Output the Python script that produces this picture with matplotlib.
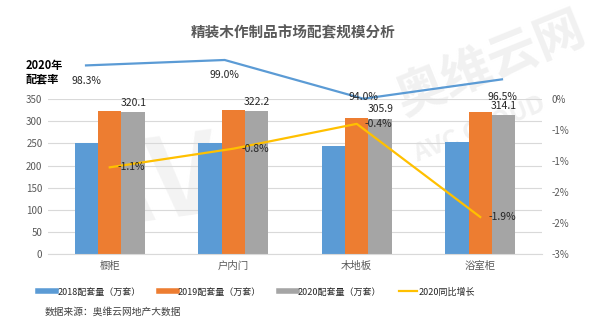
import numpy as np
import matplotlib
matplotlib.use('Agg')
import matplotlib.pyplot as plt
from matplotlib.lines import Line2D

plt.rcParams['font.family'] = ['Noto Sans CJK SC', 'DejaVu Sans']
plt.rcParams['axes.unicode_minus'] = False

plot_color = {
	'2018': '#5B9BD5',
	'2019': '#ED7D31',
	'2020': '#A5A5A5',
	'growth': '#FFC000',
	'rate': '#5B9BD5',
	'grid': '#D9D9D9',
	'text': '#595959',
}

# data
categories = ['橱柜', '户内门', '木地板', '浴室柜']
vol_2018 = [250, 251, 245, 252]
vol_2019 = [323.6, 324.8, 307.1, 320.2]
vol_2020 = [320.1, 322.2, 305.9, 314.1]
growth_2020 = [-1.1, -0.8, -0.4, -1.9]
rate_2020 = [98.3, 99.0, 94.0, 96.5]
right_ticks = [0, -0.5, -1.0, -1.5, -2.0, -2.5]
right_tick_labels = ['0%', '-1%', '-1%', '-2%', '-2%', '-3%']
series_names = ['2018配套量（万套）', '2019配套量（万套）', '2020配套量（万套）', '2020同比增长']

fig_w, fig_h = 599, 324
fig = plt.figure(figsize=(fig_w / 100, fig_h / 100), dpi=100)

# faint watermark, kept behind the axes
fig.text(0.82, 0.80, '奥维云网', fontsize=36, fontweight='bold', color='#f1f1f1',
	rotation=22, ha='center', va='center', zorder=-5)
fig.text(0.80, 0.60, 'AVC CLOUD', fontsize=18, fontweight='bold', color='#f1f1f1',
	rotation=22, ha='center', va='center', zorder=-5)
fig.text(0.25, 0.42, 'AV', fontsize=80, fontweight='bold', fontstyle='italic', color='#f3f3f3',
	rotation=8, ha='center', va='center', zorder=-5)

# main bar axes
ax = fig.add_axes([48 / fig_w, 1 - 254.3 / fig_h, 494 / fig_w, 155.3 / fig_h])
ax.set_facecolor('none')
x = np.arange(len(categories))
w = 0.19
b18 = ax.bar(x - w, vol_2018, w, color=plot_color['2018'])
b19 = ax.bar(x, vol_2019, w, color=plot_color['2019'])
b20 = ax.bar(x + w, vol_2020, w, color=plot_color['2020'])
ax.bar_label(b20, labels=['%.1f' % v for v in vol_2020], padding=3, fontsize=7.5, color='#262626')

ax.set_xlim(-0.5, 3.5)
ax.set_ylim(0, 350)
ax.set_yticks(np.arange(0, 351, 50))
ax.set_xticks(x)
ax.set_xticklabels(categories, fontsize=7.5, color=plot_color['text'])
ax.tick_params(axis='x', length=0, pad=5)
ax.tick_params(axis='y', length=0, pad=4, labelsize=7, labelcolor=plot_color['text'])
ax.set_axisbelow(True)
ax.yaxis.grid(True, color=plot_color['grid'], linewidth=0.8)
for s in ['top', 'left', 'right']:
	ax.spines[s].set_visible(False)
ax.spines['bottom'].set_color(plot_color['grid'])

# growth line on right axis
ax2 = ax.twinx()
ax2.plot(x, growth_2020, color=plot_color['growth'], linewidth=1.6)
for xi, g in zip(x, growth_2020):
	ax2.annotate('%.1f%%' % g, (xi, g), xytext=(8, 0), textcoords='offset pixels',
		ha='left', va='center', fontsize=7.5, color='#262626')
ax2.set_ylim(-2.5, 0)
ax2.set_yticks(right_ticks)
ax2.set_yticklabels(right_tick_labels)
ax2.tick_params(axis='y', length=0, pad=7, labelsize=7, labelcolor=plot_color['text'])
for s in ax2.spines.values():
	s.set_visible(False)

# 2020 rate line above the plot
ax3 = fig.add_axes([16.7 / fig_w, 1 - 105 / fig_h, 554.6 / fig_w, 65 / fig_h])
ax3.axis('off')
ax3.plot(x, rate_2020, color=plot_color['rate'], linewidth=1.6)
ax3.set_xlim(-0.5, 3.5)
ax3.set_ylim(93.19, 101.58)
rate_offsets = [-16, -15, 2, -18]
for xi, r, off in zip(x, rate_2020, rate_offsets):
	ax3.annotate('%.1f%%' % r, (xi, r), xytext=(0, off), textcoords='offset pixels',
		ha='center', va='center', fontsize=7.5, color='#262626')

fig.text(26 / fig_w, 1 - 72 / fig_h, '2020年\n配套率', fontsize=8, fontweight='bold',
	color='black', ha='left', va='center', linespacing=1.1)

fig.text(293.5 / fig_w, 1 - 32 / fig_h, '精装木作制品市场配套规模分析', fontsize=10.5,
	fontweight='bold', color=plot_color['text'], ha='center', va='center')

handles = [
	Line2D([0], [0], color=plot_color['2018'], linewidth=4),
	Line2D([0], [0], color=plot_color['2019'], linewidth=4),
	Line2D([0], [0], color=plot_color['2020'], linewidth=4),
	Line2D([0], [0], color=plot_color['growth'], linewidth=1.6),
]
fig.legend(handles, series_names, loc='center', bbox_to_anchor=(256.5 / fig_w, 1 - 292 / fig_h),
	ncol=4, frameon=False, fontsize=6.5, handlelength=2.0, handletextpad=0.1,
	columnspacing=2.0, labelcolor='#262626')

fig.text(45 / fig_w, 1 - 312 / fig_h, '数据来源：奥维云网地产大数据', fontsize=7,
	color='#404040', ha='left', va='center')

fig.savefig('out.png', dpi=100)
